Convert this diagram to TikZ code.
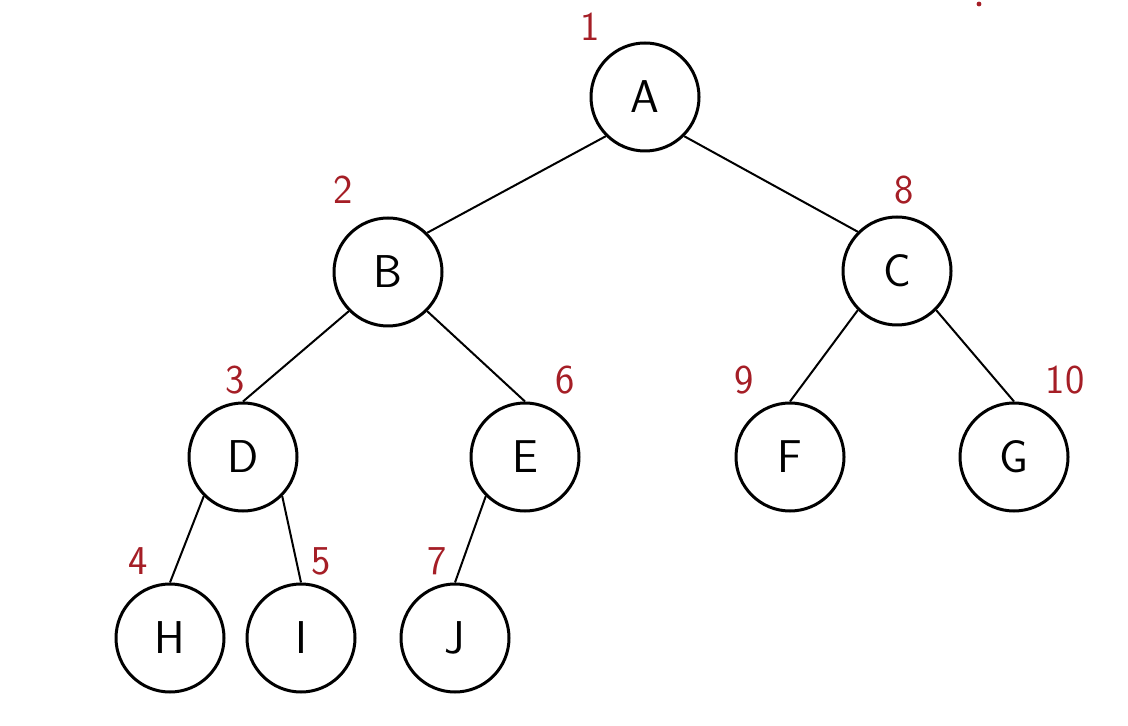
\documentclass[tikz,border=0pt]{standalone}
\usepackage{fontspec}
\definecolor{numred}{RGB}{165,30,38}
\begin{document}
\begin{tikzpicture}[x=0.5pt,y=-0.5pt,
  vert/.style={circle, draw, line width=1.5pt, minimum size=54pt, inner sep=0pt,
    font=\sffamily\fontsize{23}{26}\selectfont},
  edge/.style={line width=1pt},
  num/.style={text=numred, inner sep=0pt, font=\sffamily\fontsize{20.5}{24}\selectfont}]
\useasboundingbox[fill=white] (0,0) rectangle (1128,726);
% vertices
\node[vert] (A) at (645,97) {A};
\node[vert] (B) at (388,272) {B};
\node[vert] (C) at (897,271) {C};
\node[vert] (D) at (243,457) {D};
\node[vert] (E) at (525,457) {E};
\node[vert] (F) at (790,457) {F};
\node[vert] (G) at (1014,457) {G};
\node[vert] (H) at (170,638) {H};
\node[vert] (I) at (301,638) {I};
\node[vert] (J) at (455,638) {J};
% edges
\draw[edge] (A.south west) -- (B.north east);
\draw[edge] (A.south east) -- (C.north west);
\draw[edge] (B.south west) -- (D.north);
\draw[edge] (B.south east) -- (E.north);
\draw[edge] (C.south west) -- (F.north);
\draw[edge] (C.south east) -- (G.north);
\draw[edge] (D.south west) -- (H.north);
\draw[edge] (D.south east) -- (I.north);
\draw[edge] (E.south west) -- (J.north);
% numbers
\node[num] (n1) at (590,27) {1};
\node[num] (n2) at (343,190) {2};
\node[num] (n3) at (235,380) {3};
\node[num] (n4) at (138,561) {4};
\node[num] (n5) at (321,561) {5};
\node[num] (n6) at (565,380) {6};
\node[num] (n7) at (437,561) {7};
\node[num] (n8) at (904,190) {8};
\node[num] (n9) at (744,380) {9};
\node[num] (n10) at (1065,380) {10};
% small mark
\fill[numred] (979,4) circle (1.2pt);
\end{tikzpicture}
\end{document}
